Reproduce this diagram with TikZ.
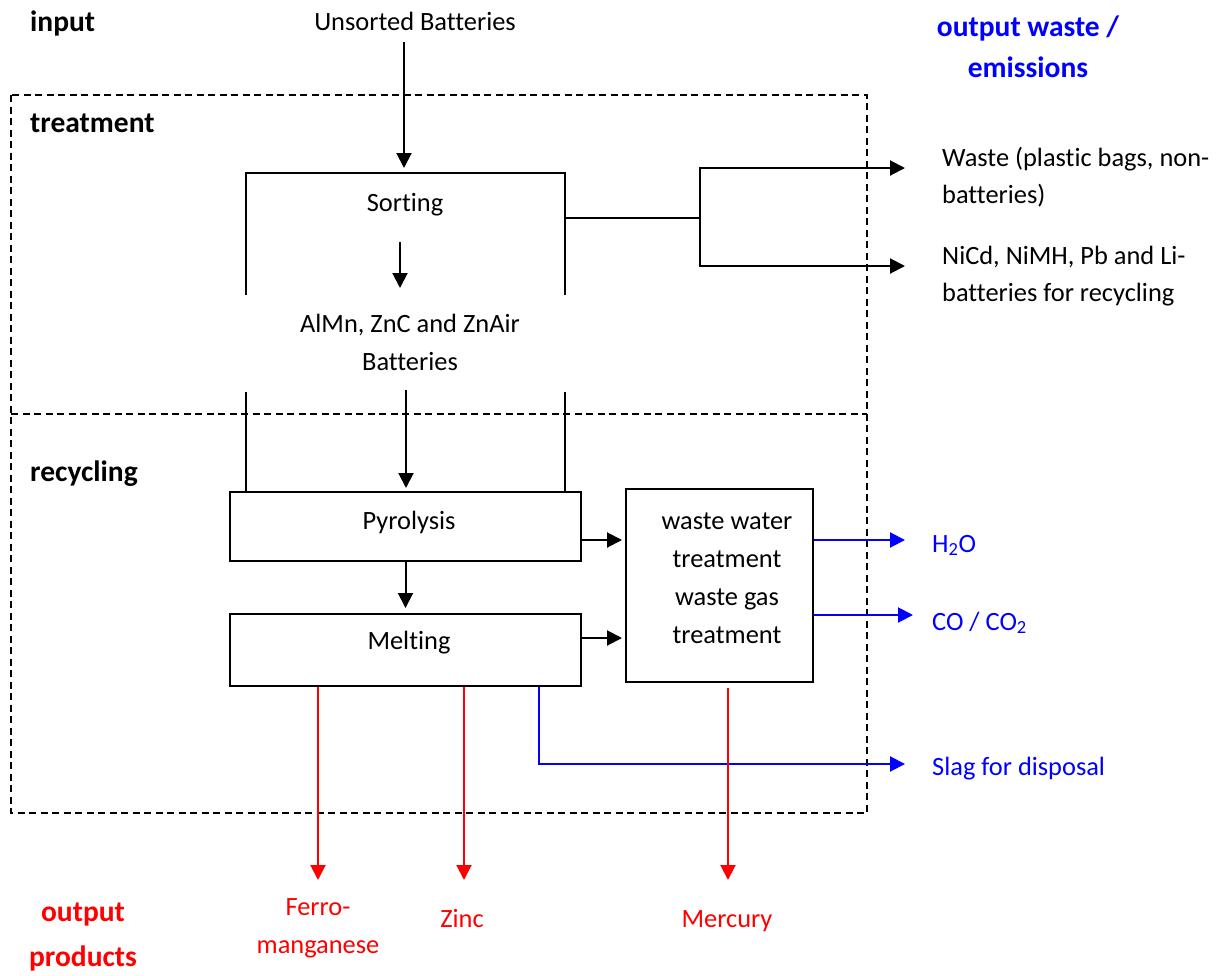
\documentclass[tikz,border=0pt]{standalone}
\usepackage{fontspec}
\setmainfont{Carlito}[Ligatures=NoCommon]
\usetikzlibrary{arrows.meta}
\begin{document}
\begin{tikzpicture}[x=1pt,y=-1pt,
  txt/.style={font=\fontsize{26.4}{38}\selectfont, inner sep=0pt, align=center},
  hd/.style={font=\fontsize{29.5}{41}\selectfont\bfseries, inner sep=0pt, align=center},
  lbl/.style={font=\fontsize{26.4}{37}\selectfont, inner sep=0pt, align=left, anchor=base west},
  box/.style={draw, line width=2pt, inner sep=0pt},
  line/.style={line width=2pt},
  tip/.style={-{Triangle[length=15pt,width=15pt]}},
  arr/.style={line, tip},
  barr/.style={line, tip, blue},
  rarr/.style={line, tip, red},
  frame/.style={line width=1.5pt, dash pattern=on 7pt off 4.5pt}]
\useasboundingbox (0,0) rectangle (1224,975);

% treatment / recycling frame
\draw[frame] (11,95) rectangle (867,813);
\draw[frame] (11,414) -- (867,414);

% column headings (multi-line nodes sit on the baseline of their last line)
\node[hd, anchor=base west] (hin) at (30,31.5) {input};
\node[hd, anchor=base west] (htr) at (30,132.5) {treatment};
\node[hd, anchor=base west] (hrc) at (30,481.5) {recycling};
\node[hd, anchor=base, text=blue] (hout) at (1028,77) {output waste /\\emissions};
\node[hd, anchor=base, text=red] (hprod) at (83,966) {output\\[4pt]products};

% input and sorting
\node[txt, anchor=base] (ub) at (415,30) {Unsorted Batteries};
\node[txt, anchor=base] (sorting) at (405,211) {Sorting};
\node[txt, anchor=base] (bat) at (410,370) {AlMn, ZnC and ZnAir\\Batteries};

% sorting frame: open at the sides where the battery label sits
\draw[line] (246,295) |- (565,173) -- (565,295);
\draw[line] (246,392) -- (246,492);
\draw[line] (565,392) -- (565,492);

\coordinate (sortin) at (404,173);
\coordinate (batin) at (400,288);
\coordinate (pyroin) at (406,492);
\draw[arr, shorten >=5pt] (sortin |- 0,42) -- (sortin);
\draw[arr] (batin |- 0,242) -- (batin);
\draw[arr, shorten >=4pt] (pyroin |- 0,390) -- (pyroin);

% sorted-out fractions
\node[lbl] (waste) at (942,203) {Waste (plastic bags, non-\\batteries)};
\node[lbl] (nicd) at (942,301) {NiCd, NiMH, Pb and Li-\\batteries for recycling};
\coordinate (split) at (700,218);
\coordinate (wastetip) at (905,168);
\coordinate (nicdtip) at (905,266);
\draw[line] (566,218) -- (split);
\draw[arr] (split) |- (wastetip);
\draw[arr] (split) |- (nicdtip);

% recycling process boxes
\node[box, minimum width=351pt, minimum height=69pt] (pyro) at (405.5,526.5) {};
\node[txt, anchor=base] (pyrot) at (409,529) {Pyrolysis};
\node[box, minimum width=351pt, minimum height=72pt] (melt) at (405.5,650) {};
\node[txt, anchor=base] (meltt) at (409,649) {Melting};
\node[box, minimum width=187pt, minimum height=193pt] (wt) at (719.5,585.5) {};
\node[txt, anchor=base] (wtt) at (727,643) {waste water\\treatment\\waste gas\\treatment};

\draw[arr, shorten >=5pt] (pyro) -- (melt);
\coordinate (ya) at (0,540);
\coordinate (yb) at (0,638);
\draw[arr, shorten >=3pt] (pyro.east |- ya) -- (wt.west |- ya);
\draw[arr, shorten >=3pt] (melt.east |- yb) -- (wt.west |- yb);

% emissions
\node[lbl, text=blue] (h2o) at (932,552) {H\textsubscript{2}O};
\node[lbl, text=blue] (co) at (932,630) {CO / CO\textsubscript{2}};
\node[lbl, text=blue] (slag) at (932,775) {Slag for disposal};
\coordinate (h2otip) at (905,540);
\coordinate (cotip) at (913,615);
\coordinate (slagtip) at (905,764);
\draw[barr] (wt.east |- h2otip) -- (h2otip);
\draw[barr] (wt.east |- cotip) -- (cotip);
\draw[barr] (melt.south -| 539,0) |- (slagtip);

% products
\node[txt, anchor=base, text=red] (fe) at (318,953) {Ferro-\\manganese};
\node[txt, anchor=base, text=red] (zn) at (462,927) {Zinc};
\node[txt, anchor=base, text=red] (hg) at (727,927) {Mercury};
\coordinate (fetip) at (318,880);
\coordinate (zntip) at (464,880);
\coordinate (hgtip) at (728,880);
\draw[rarr] (melt.south -| fetip) -- (fetip);
\draw[rarr] (melt.south -| zntip) -- (zntip);
\draw[rarr] (hgtip |- 0,688) -- (hgtip);
\end{tikzpicture}
\end{document}
